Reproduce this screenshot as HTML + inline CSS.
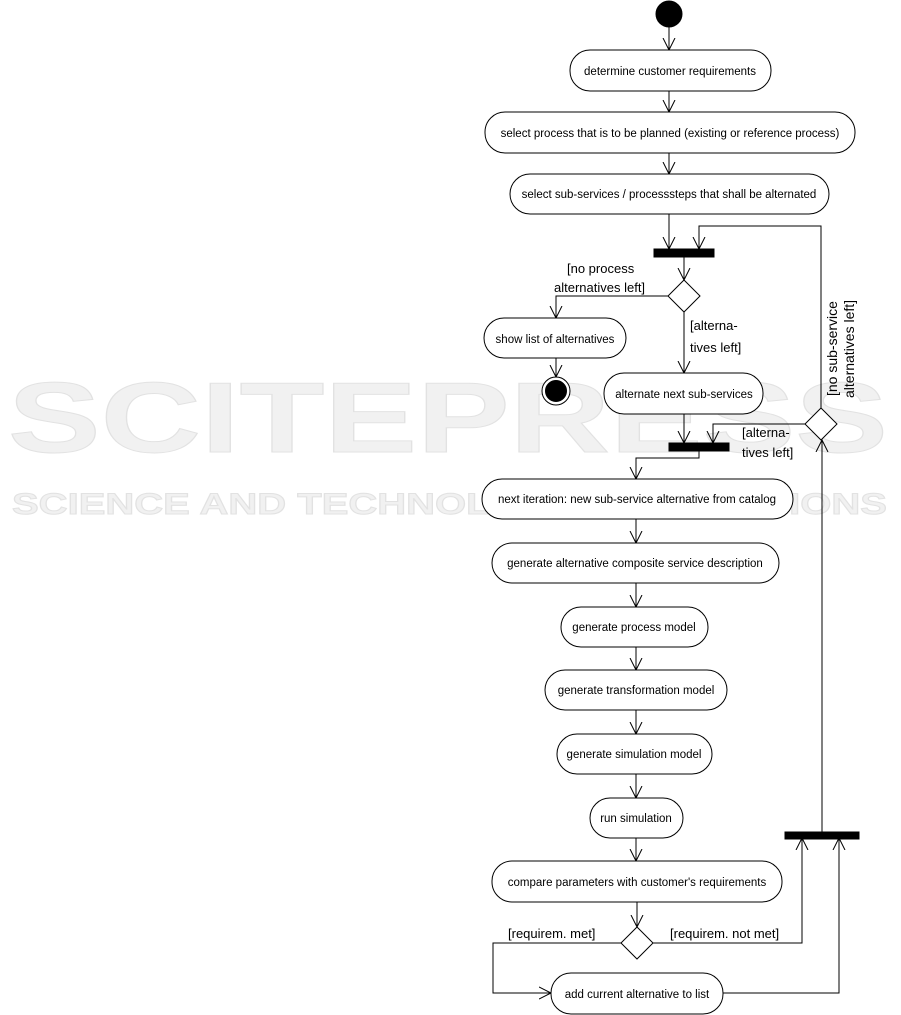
<!DOCTYPE html>
<html><head><meta charset="utf-8"><style>
html,body{margin:0;padding:0;background:#fff;width:901px;height:1015px;overflow:hidden}
svg{display:block}
text{font-family:"Liberation Sans",sans-serif;fill:#000}
.b{font-size:11.5px}
.l{font-size:13px}
.w{font-family:"Liberation Sans",sans-serif;fill:#f1f1f1;stroke:#e2e2e2;stroke-width:1;font-weight:bold}
</style></head><body>
<svg width="901" height="1015" viewBox="0 0 901 1015" xmlns="http://www.w3.org/2000/svg">
<defs>
<marker id="a" markerUnits="userSpaceOnUse" markerWidth="14" markerHeight="14" refX="12" refY="7" orient="auto">
<path d="M0,1 L12,7 L0,13" fill="none" stroke="#000" stroke-width="1"/>
</marker>
</defs>
<!-- watermark -->
<text class="w" x="8" y="452" font-size="100" textLength="880" lengthAdjust="spacingAndGlyphs">SCITEPRESS</text>
<text class="w" x="12" y="514" font-size="30" textLength="875" lengthAdjust="spacingAndGlyphs">SCIENCE AND TECHNOLOGY PUBLICATIONS</text>

<g stroke="#000" stroke-width="1" fill="none">
<circle cx="669" cy="14" r="13" fill="#000"/>
<line x1="669" y1="27" x2="669" y2="50" marker-end="url(#a)"/>
<rect x="570" y="50" width="201" height="41" rx="20" fill="#fff"/>
<line x1="669" y1="91" x2="669" y2="112" marker-end="url(#a)"/>
<rect x="485" y="112" width="370" height="41" rx="20" fill="#fff"/>
<line x1="669" y1="153" x2="669" y2="174" marker-end="url(#a)"/>
<rect x="510" y="174" width="319" height="40" rx="20" fill="#fff"/>
<line x1="669" y1="214" x2="669" y2="249" marker-end="url(#a)"/>
<rect x="654" y="249" width="60" height="8" fill="#000"/>
<polyline points="821,408 821,226 699,226 699,249" marker-end="url(#a)"/>
<line x1="684" y1="257" x2="684" y2="280" marker-end="url(#a)"/>
<polygon points="684,280 700,296 684,312 668,296" fill="#fff"/>
<polyline points="668,296 556,296 556,318" marker-end="url(#a)"/>
<rect x="484" y="318" width="142" height="40" rx="20" fill="#fff"/>
<line x1="556" y1="358" x2="556" y2="377" marker-end="url(#a)"/>
<circle cx="556" cy="391" r="14" fill="#fff"/>
<circle cx="556" cy="391" r="10.5" fill="#000"/>
<line x1="684" y1="312" x2="684" y2="373" marker-end="url(#a)"/>
<rect x="604" y="373" width="159" height="41" rx="20" fill="#fff"/>
<line x1="684" y1="414" x2="684" y2="443" marker-end="url(#a)"/>
<rect x="669" y="443" width="60" height="8" fill="#000"/>
<polygon points="821,408 837,424 821,440 805,424" fill="#fff"/>
<polyline points="805,424 713,424 713,443" marker-end="url(#a)"/>
<polyline points="699,451 699,458 636,458 636,479" marker-end="url(#a)"/>
<rect x="482" y="479" width="311" height="40" rx="20" fill="#fff"/>
<line x1="636" y1="519" x2="636" y2="543" marker-end="url(#a)"/>
<rect x="492" y="543" width="287" height="40" rx="20" fill="#fff"/>
<line x1="636" y1="583" x2="636" y2="607" marker-end="url(#a)"/>
<rect x="561" y="607" width="147" height="40" rx="20" fill="#fff"/>
<line x1="636" y1="647" x2="636" y2="670" marker-end="url(#a)"/>
<rect x="545" y="670" width="182" height="40" rx="20" fill="#fff"/>
<line x1="636" y1="710" x2="636" y2="734" marker-end="url(#a)"/>
<rect x="557" y="734" width="155" height="40" rx="20" fill="#fff"/>
<line x1="636" y1="774" x2="636" y2="798" marker-end="url(#a)"/>
<rect x="590" y="798" width="93" height="40" rx="20" fill="#fff"/>
<line x1="636" y1="838" x2="636" y2="861" marker-end="url(#a)"/>
<rect x="492" y="861" width="290" height="41" rx="20" fill="#fff"/>
<line x1="637" y1="902" x2="637" y2="927" marker-end="url(#a)"/>
<polygon points="637,927 653,943 637,959 621,943" fill="#fff"/>
<polyline points="653,943 802,943 802,838" marker-end="url(#a)"/>
<polyline points="621,943 493,943 493,993 551,993" marker-end="url(#a)"/>
<rect x="551" y="973" width="172" height="41" rx="20" fill="#fff"/>
<polyline points="723,993 839,993 839,838" marker-end="url(#a)"/>
<rect x="785" y="832" width="74" height="7" fill="#000"/>
<line x1="822" y1="832" x2="822" y2="440" marker-end="url(#a)"/>
</g>

<g class="b" text-anchor="middle">
<text x="670" y="75">determine customer requirements</text>
<text x="670" y="137">select process that is to be planned (existing or reference process)</text>
<text x="669" y="198">select sub-services / processsteps that shall be alternated</text>
<text x="555" y="343">show list of alternatives</text>
<text x="684" y="398">alternate next sub-services</text>
<text x="637" y="503">next iteration: new sub-service alternative from catalog</text>
<text x="635" y="567">generate alternative composite service description</text>
<text x="634" y="631">generate process model</text>
<text x="636" y="694">generate transformation model</text>
<text x="634" y="758">generate simulation model</text>
<text x="636" y="822">run simulation</text>
<text x="637" y="886">compare parameters with customer's requirements</text>
<text x="637" y="998">add current alternative to list</text>
</g>
<g class="l">
<text x="567" y="273">[no process</text>
<text x="554" y="292">alternatives left]</text>
<text x="690" y="330">[alterna-</text>
<text x="690" y="352">tives left]</text>
<text x="742" y="437">[alterna-</text>
<text x="742" y="457">tives left]</text>
<text x="508" y="938">[requirem. met]</text>
<text x="670" y="938">[requirem. not met]</text>
<text transform="translate(837,396) rotate(-90)" font-size="14">[no sub-service</text>
<text transform="translate(854,398) rotate(-90)" font-size="14">alternatives left]</text>
</g>
</svg>
</body></html>
